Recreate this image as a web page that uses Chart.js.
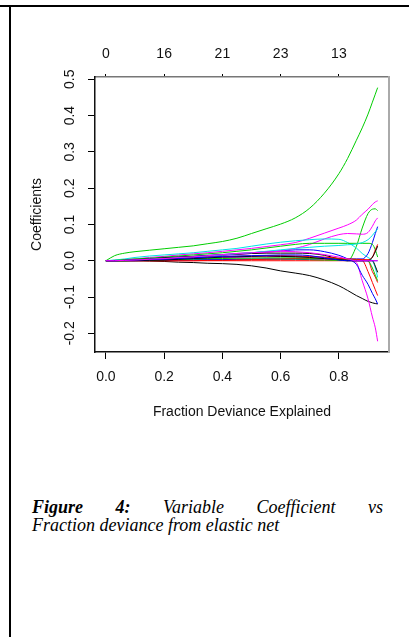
<!DOCTYPE html>
<html><head><meta charset="utf-8">
<script src="https://cdn.jsdelivr.net/npm/chart.js@4.4.1/dist/chart.umd.min.js"></script>
<style>
html,body{margin:0;padding:0;background:#fff;}
body{width:409px;height:637px;position:relative;overflow:hidden;}
#wrap{position:absolute;left:0;top:0;width:409px;height:440px;}
#topline{position:absolute;left:0;top:5px;width:409px;height:2px;background:#000;z-index:2;}
#leftline{position:absolute;left:9px;top:5px;width:2px;height:632px;background:#000;z-index:2;}
#cap{position:absolute;left:32px;top:497.5px;width:351px;font-family:'Liberation Serif','Times New Roman',serif;font-style:italic;font-size:18px;line-height:18.4px;color:#000;}
.l1{text-align:justify;text-align-last:justify;}
</style></head>
<body>
<div id="wrap"><canvas id="c" width="409" height="440"></canvas></div>
<div id="topline"></div><div id="leftline"></div>
<div id="cap"><div class="l1"><b>Figure 4:</b> Variable Coefficient vs</div><div>Fraction deviance from elastic net</div></div>
<script>
// ---- data ----
const fracDev = [0, 0.03, 0.065, 0.1, 0.15, 0.2, 0.25, 0.3, 0.35, 0.4, 0.45, 0.5, 0.55, 0.6, 0.65, 0.7, 0.75, 0.8, 0.83, 0.86, 0.88, 0.9, 0.915, 0.925, 0.933];
const xTickValues = [0, 0.2, 0.4, 0.6, 0.8];
const xTickLabels = ['0.0', '0.2', '0.4', '0.6', '0.8'];
const topTickLabels = ['0', '16', '21', '23', '13'];
const yTickValues = [-0.2, -0.1, 0, 0.1, 0.2, 0.3, 0.4, 0.5];
const yTickLabels = ['-0.2', '-0.1', '0.0', '0.1', '0.2', '0.3', '0.4', '0.5'];

const magentaBand = [0, 0, 0.001, 0.002, 0.004, 0.006, 0.009, 0.011, 0.014, 0.017, 0.020, 0.022, 0.024, 0.026, 0.025, 0.022, 0.017, 0.010, 0.005, 0, 0, 0, 0, 0, 0];
const blueBand = [0, 0, 0.001, 0.002, 0.003, 0.004, 0.006, 0.008, 0.010, 0.012, 0.013, 0.014, 0.015, 0.016, 0.016, 0.014, 0.008, 0.002, 0, 0, 0, 0, 0, 0, 0];
const blackBand = [0, 0, 0, 0, 0.001, 0.002, 0.004, 0.006, 0.008, 0.010, 0.011, 0.012, 0.013, 0.012, 0.011, 0.009, 0.006, 0.003, 0.001, 0, 0, 0, 0.010, 0.025, 0.040];
const redBand = [0, 0, 0.001, 0.002, 0.003, 0.005, 0.006, 0.008, 0.010, 0.011, 0.012, 0.013, 0.014, 0.014, 0.013, 0.012, 0.010, 0.007, 0.005, 0.004, 0.003, 0.003, 0.010, 0.030, 0.045];
const cyanBand = [0, 0, 0.001, 0.002, 0.004, 0.006, 0.008, 0.010, 0.013, 0.016, 0.019, 0.022, 0.026, 0.030, 0.034, 0.037, 0.040, 0.042, 0.044, 0.046, 0.050, 0.058, 0.070, 0.080, 0.088];
const greenEnd = [0, 0, 0, 0.001, 0.002, 0.003, 0.004, 0.005, 0.006, 0.006, 0.007, 0.007, 0.008, 0.008, 0.008, 0.007, 0.006, 0.005, 0.004, 0.003, 0.002, 0, -0.020, -0.040, -0.055];
const redEnd = [0, 0, 0, 0, 0, 0, 0, 0, 0.001, 0.001, 0.002, 0.003, 0.004, 0.005, 0.006, 0.006, 0.005, 0.004, 0.003, 0.002, 0.001, 0, -0.030, -0.045, -0.060];
const blackShrink = [0, 0, 0.001, 0.003, 0.005, 0.008, 0.010, 0.012, 0.014, 0.016, 0.018, 0.020, 0.021, 0.021, 0.021, 0.020, 0.015, 0.005, 0, 0, 0, 0, 0, -0.015, -0.032];
const greenFlat = [0, 0.001, 0.003, 0.005, 0.007, 0.010, 0.013, 0.016, 0.019, 0.022, 0.026, 0.030, 0.035, 0.040, 0.045, 0.048, 0.048, 0.048, 0.048, 0.048, 0.048, 0.048, 0.045, 0.030, 0.010];
const blueLate = [0, 0, 0, 0, 0.001, 0.001, 0.002, 0.002, 0.003, 0.003, 0.004, 0.004, 0.005, 0.005, 0.005, 0.005, 0.005, 0.005, 0.005, 0.005, 0.005, 0.020, 0.050, 0.075, 0.094];
const cyanArc = [0, 0.002, 0.005, 0.009, 0.013, 0.016, 0.019, 0.022, 0.026, 0.030, 0.034, 0.040, 0.046, 0.051, 0.055, 0.058, 0.060, 0.059, 0.050, 0.035, 0.020, 0.009, 0, -0.020, -0.046];
const magentaMid = [0, 0, 0.002, 0.003, 0.004, 0.006, 0.008, 0.010, 0.012, 0.015, 0.017, 0.020, 0.023, 0.027, 0.034, 0.045, 0.060, 0.072, 0.075, 0.074, 0.073, 0.078, 0.095, 0.110, 0.118];
const greenLate = [0, 0, 0, 0.001, 0.001, 0.002, 0.002, 0.003, 0.003, 0.003, 0.004, 0.004, 0.004, 0.004, 0.004, 0.003, 0.002, 0.001, 0, 0.040, 0.090, 0.130, 0.142, 0.143, 0.138];
const redDown = [0, 0, 0, 0, 0, 0, 0, 0, 0, 0, 0, 0, 0, 0, 0, 0, 0, 0, 0, 0, 0, -0.030, -0.060, -0.080, -0.096];
const blueDown = [0, 0, 0.001, 0.003, 0.005, 0.008, 0.010, 0.012, 0.015, 0.017, 0.020, 0.022, 0.025, 0.027, 0.030, 0.030, 0.025, 0.015, 0.005, -0.010, -0.040, -0.065, -0.090, -0.105, -0.119];
const magentaDown = [0, 0, 0.001, 0.002, 0.003, 0.004, 0.005, 0.006, 0.007, 0.008, 0.009, 0.010, 0.011, 0.012, 0.012, 0.011, 0.009, 0.006, 0.003, -0.005, -0.055, -0.105, -0.155, -0.185, -0.222];
const magentaUp = [0, 0.001, 0.003, 0.005, 0.009, 0.012, 0.016, 0.019, 0.022, 0.026, 0.030, 0.034, 0.039, 0.044, 0.050, 0.062, 0.076, 0.090, 0.099, 0.112, 0.128, 0.142, 0.155, 0.162, 0.165];
const blackDown = [0, 0, 0, 0, -0.001, -0.002, -0.004, -0.005, -0.007, -0.008, -0.010, -0.014, -0.020, -0.028, -0.034, -0.041, -0.053, -0.069, -0.082, -0.096, -0.104, -0.112, -0.116, -0.118, -0.119];
const greenBig = [0, 0.014, 0.021, 0.025, 0.029, 0.033, 0.037, 0.041, 0.047, 0.053, 0.062, 0.075, 0.088, 0.101, 0.118, 0.145, 0.186, 0.240, 0.282, 0.332, 0.366, 0.404, 0.437, 0.459, 0.477];

// ---- styles ----
const COL = {black:'#000000', red:'#FF0000', green:'#00CD00', blue:'#0000FF', cyan:'#00E5E5', magenta:'#FF00FF'};
const paths = [
  [magentaBand, 'magenta'], [blueBand, 'blue'], [blackBand, 'black'], [redBand, 'red'],
  [cyanBand, 'cyan'], [greenEnd, 'green'], [redEnd, 'red'], [blackShrink, 'black'],
  [greenFlat, 'green'], [blueLate, 'blue'], [cyanArc, 'cyan'], [magentaMid, 'magenta'],
  [greenLate, 'green'], [redDown, 'red'], [blueDown, 'blue'], [magentaDown, 'magenta'],
  [magentaUp, 'magenta'], [blackDown, 'black'], [greenBig, 'green']
];

const datasets = paths.map(([vals, c]) => ({
  data: vals.map((v, i) => ({x: fracDev[i], y: v})),
  borderColor: COL[c], borderWidth: 1, pointRadius: 0, fill: false,
  cubicInterpolationMode: 'monotone', xAxisID: 'x', yAxisID: 'y'
}));

Chart.defaults.font.family = "'Liberation Sans', Arial, sans-serif";
Chart.defaults.font.size = 14;
Chart.defaults.color = '#111';

const X_MIN = -0.0374, X_MAX = 0.972, Y_MIN = -0.2515, Y_MAX = 0.5063;

new Chart(document.getElementById('c'), {
  type: 'line',
  data: { datasets },
  options: {
    responsive: false, animation: false, devicePixelRatio: 1,
    layout: { padding: { left: 0, right: 20, top: 0, bottom: 0 } },
    plugins: { legend: { display: false }, tooltip: { enabled: false } },
    scales: {
      x: {
        type: 'linear', position: 'bottom', min: X_MIN, max: X_MAX,
        afterBuildTicks: s => { s.ticks = xTickValues.map(v => ({value: v})); },
        afterFit: s => { s.height = 88; },
        ticks: { padding: 10, maxRotation: 0, callback: (v, i) => xTickLabels[i] },
        grid: { drawOnChartArea: false, drawTicks: true, tickLength: 7, color: '#000' },
        border: { display: true, color: '#111', width: 1.5 },
        title: { display: true, text: 'Fraction Deviance Explained', color: '#111', font: { size: 14 }, padding: { top: 0, bottom: 19 } }
      },
      x2: {
        type: 'linear', position: 'top', min: X_MIN, max: X_MAX,
        afterBuildTicks: s => { s.ticks = xTickValues.map(v => ({value: v})); },
        afterFit: s => { s.height = 77; },
        ticks: { padding: 11, maxRotation: 0, callback: (v, i) => topTickLabels[i] },
        grid: { drawOnChartArea: false, drawTicks: true, tickLength: 3, color: '#000' },
        border: { display: true, color: '#777', width: 1.5 }
      },
      y: {
        type: 'linear', position: 'left', min: Y_MIN, max: Y_MAX,
        afterBuildTicks: s => { s.ticks = yTickValues.map(v => ({value: v})); },
        afterFit: s => { s.width = 95; },
        ticks: { padding: 5.6, minRotation: 90, maxRotation: 90, crossAlign: 'center', callback: (v, i) => yTickLabels[i] },
        grid: { drawOnChartArea: false, drawTicks: true, tickLength: 7, color: '#000' },
        border: { display: true, color: '#111', width: 1.5 },
        title: { display: true, text: 'Coefficients', color: '#111', font: { size: 14 }, padding: { top: 28.6, bottom: 0 } }
      },
      y2: {
        type: 'linear', position: 'right', min: 0, max: 1,
        afterFit: s => { s.width = 0; },
        ticks: { display: false },
        grid: { display: false },
        border: { display: true, color: '#aaa', width: 2 }
      }
    }
  }
});
</script>
</body></html>
